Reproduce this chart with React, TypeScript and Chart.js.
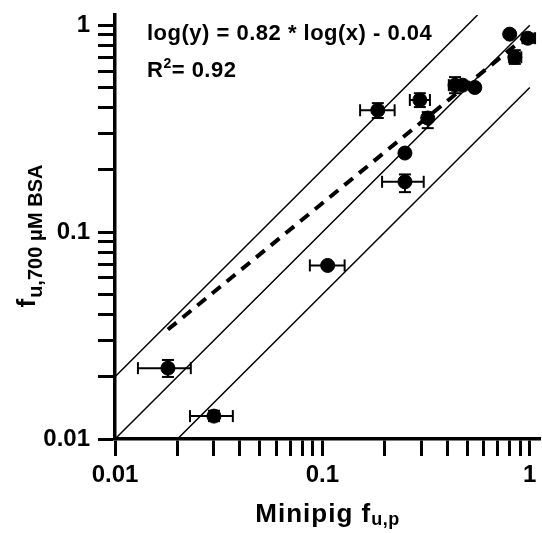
import React, { useEffect, useRef } from "react";
import { Chart, registerables } from "chart.js";

Chart.register(...registerables);

// ---- data ----
const xValues = [0.018, 0.030, 0.106, 0.185, 0.25, 0.25, 0.295, 0.322, 0.436, 0.475, 0.543, 0.80, 0.978, 0.847];
const yValues = [0.022, 0.0129, 0.069, 0.388, 0.175, 0.241, 0.435, 0.356, 0.513, 0.513, 0.50, 0.905, 0.865, 0.70];
const xErrLow = [0.0129, 0.023, 0.087, 0.152, 0.194, 0.25, 0.264, 0.31, 0.407, 0.475, 0.525, 0.80, 0.924, 0.795];
const xErrHigh = [0.0232, 0.037, 0.128, 0.223, 0.308, 0.25, 0.33, 0.334, 0.46, 0.475, 0.562, 0.80, 1.06, 0.91];
const yErrLow = [0.01995, 0.0122, 0.067, 0.356, 0.156, 0.241, 0.402, 0.318, 0.469, 0.513, 0.48, 0.905, 0.82, 0.65];
const yErrHigh = [0.0241, 0.0137, 0.071, 0.42, 0.19, 0.241, 0.469, 0.38, 0.561, 0.513, 0.52, 0.905, 0.91, 0.757];

const identityX = [0.01, 1];
const identityY = [0.01, 1];
const upperX = [0.01, 0.56];
const upperY = [0.02, 1.12];
const lowerX = [0.02, 1];
const lowerY = [0.01, 0.5];
const regressionX = [0.018, 0.98];
const regressionY = [0.0338, 0.897];

const axisTicks = [
  0.01, 0.02, 0.03, 0.04, 0.05, 0.06, 0.07, 0.08, 0.09,
  0.1, 0.2, 0.3, 0.4, 0.5, 0.6, 0.7, 0.8, 0.9, 1,
];
const majorTicks = [0.01, 0.1, 1];
const majorLabels = ["0.01", "0.1", "1"];

const equationText = "log(y) = 0.82 * log(x) - 0.04";
const r2Main = "R";
const r2Sup = "2";
const r2Rest = "= 0.92";
const xTitleMain = "Minipig f";
const xTitleSub = "u,p";
const yTitleMain = "f";
const yTitleSub = "u,700 μM BSA";

const AXIS_MIN = 0.01;
const AXIS_MAX = 1.12;

const FONT = "'Liberation Sans', Arial, Helvetica, sans-serif";

const toPoints = (xs: number[], ys: number[]) => xs.map((x, i) => ({ x, y: ys[i] }));
const isMajor = (v: number) => majorTicks.some((m) => Math.abs(m - v) < 1e-9);

const errorBarDatasets = () => {
  const sets: any[] = [];
  xValues.forEach((x, i) => {
    const y = yValues[i];
    const common = {
      showLine: true,
      borderColor: "#000",
      borderWidth: 2,
      pointStyle: "line",
      pointRadius: 6,
      pointHoverRadius: 6,
      pointBorderWidth: 2,
      pointBorderColor: "#000",
      backgroundColor: "#000",
      fill: false,
    };
    if (xErrHigh[i] > xErrLow[i]) {
      sets.push({ ...common, label: "x error " + i, pointRotation: 90, data: [{ x: xErrLow[i], y }, { x: xErrHigh[i], y }] });
    }
    if (yErrHigh[i] > yErrLow[i]) {
      sets.push({ ...common, label: "y error " + i, pointRotation: 0, data: [{ x, y: yErrLow[i] }, { x, y: yErrHigh[i] }] });
    }
  });
  return sets;
};

const setSpacing = (ctx: any, px: number) => {
  if ("letterSpacing" in ctx) ctx.letterSpacing = px + "px";
};

const textPlugin = {
  id: "texts",
  afterDraw(chart: any) {
    const { ctx, chartArea } = chart;
    ctx.save();
    ctx.fillStyle = "#000";
    ctx.textBaseline = "alphabetic";
    ctx.textAlign = "left";

    // equation
    ctx.font = "bold 22px " + FONT;
    setSpacing(ctx, 0.5);
    ctx.fillText(equationText, 147, 40);
    const wR = ctx.measureText(r2Main).width;
    ctx.fillText(r2Main, 147, 77);
    ctx.font = "bold 14px " + FONT;
    const w2 = ctx.measureText(r2Sup).width;
    ctx.fillText(r2Sup, 147 + wR, 68);
    ctx.font = "bold 22px " + FONT;
    ctx.fillText(r2Rest, 147 + wR + w2, 77);

    // x title
    ctx.font = "bold 26px " + FONT;
    setSpacing(ctx, 1);
    const wx1 = ctx.measureText(xTitleMain).width;
    ctx.font = "bold 18px " + FONT;
    setSpacing(ctx, 0.5);
    const wx2 = ctx.measureText(xTitleSub).width;
    const cx = (chartArea.left + chartArea.right) / 2;
    const sx = cx - (wx1 + wx2) / 2;
    ctx.font = "bold 26px " + FONT;
    setSpacing(ctx, 1);
    ctx.fillText(xTitleMain, sx, 522);
    ctx.font = "bold 18px " + FONT;
    setSpacing(ctx, 0.5);
    ctx.fillText(xTitleSub, sx + wx1, 525);

    // y title (rotated)
    ctx.translate(35, (chartArea.top + chartArea.bottom) / 2 + 9);
    ctx.rotate(-Math.PI / 2);
    setSpacing(ctx, 0);
    ctx.font = "bold 26px " + FONT;
    const wy1 = ctx.measureText(yTitleMain).width + 1;
    ctx.font = "bold 20px " + FONT;
    const wy2 = ctx.measureText(yTitleSub).width;
    const sy = -(wy1 + wy2) / 2;
    ctx.font = "bold 26px " + FONT;
    ctx.fillText(yTitleMain, sy, 0);
    ctx.font = "bold 20px " + FONT;
    ctx.fillText(yTitleSub, sy + wy1, 7);
    ctx.restore();
  },
};

const makeScale = (fitSize: number, isX: boolean) => ({
  type: "logarithmic" as const,
  min: AXIS_MIN,
  max: AXIS_MAX,
  afterBuildTicks: (scale: any) => {
    scale.ticks = axisTicks.map((v) => ({ value: v, major: isMajor(v) }));
  },
  afterFit: (scale: any) => {
    if (isX) scale.height = fitSize;
    else scale.width = fitSize;
    scale.paddingTop = 0;
    scale.paddingBottom = 0;
    scale.paddingLeft = 0;
    scale.paddingRight = 0;
  },
  grid: {
    drawOnChartArea: false,
    tickLength: 17,
    tickWidth: 3,
    tickColor: "#000",
  },
  border: { display: true, color: "#000", width: 3.5 },
  ticks: {
    autoSkip: false,
    maxRotation: 0,
    padding: isX ? 5 : 8,
    color: "#000",
    font: { family: FONT, size: 24, weight: "bold" as const },
    callback: (value: any) => {
      const idx = majorTicks.findIndex((m) => Math.abs(m - Number(value)) < 1e-9);
      return idx >= 0 ? majorLabels[idx] : "";
    },
  },
});

export default function App() {
  const canvasRef = useRef<HTMLCanvasElement | null>(null);

  useEffect(() => {
    if (!canvasRef.current) return;
    const chart = new Chart(canvasRef.current, {
      type: "scatter",
      data: {
        datasets: [
          {
            label: "Compounds",
            data: toPoints(xValues, yValues),
            pointRadius: 7,
            pointHoverRadius: 7,
            backgroundColor: "#000",
            borderColor: "#000",
          },
          ...errorBarDatasets(),
          {
            label: "Regression",
            data: toPoints(regressionX, regressionY),
            showLine: true,
            pointRadius: 0,
            borderColor: "#000",
            borderWidth: 4,
            borderDash: [11, 8],
            fill: false,
          },
          {
            label: "y = x",
            data: toPoints(identityX, identityY),
            showLine: true,
            pointRadius: 0,
            borderColor: "#000",
            borderWidth: 1.5,
            fill: false,
          },
          {
            label: "2-fold upper",
            data: toPoints(upperX, upperY),
            showLine: true,
            pointRadius: 0,
            borderColor: "#000",
            borderWidth: 1.5,
            fill: false,
          },
          {
            label: "2-fold lower",
            data: toPoints(lowerX, lowerY),
            showLine: true,
            pointRadius: 0,
            borderColor: "#000",
            borderWidth: 1.5,
            fill: false,
          },
        ],
      },
      options: {
        responsive: false,
        animation: false,
        layout: { autoPadding: false, padding: { top: 15, right: 2 } },
        plugins: {
          legend: { display: false },
          tooltip: { enabled: false },
        },
        scales: {
          x: makeScale(94, true) as any,
          y: makeScale(115, false) as any,
        },
      },
      plugins: [textPlugin],
    });
    return () => chart.destroy();
  }, []);

  return (
    <div style={{ position: "relative", width: 542, height: 533 }}>
      <style>{"body{margin:0}"}</style>
      <canvas ref={canvasRef} width={542} height={533} style={{ display: "block" }} />
    </div>
  );
}
